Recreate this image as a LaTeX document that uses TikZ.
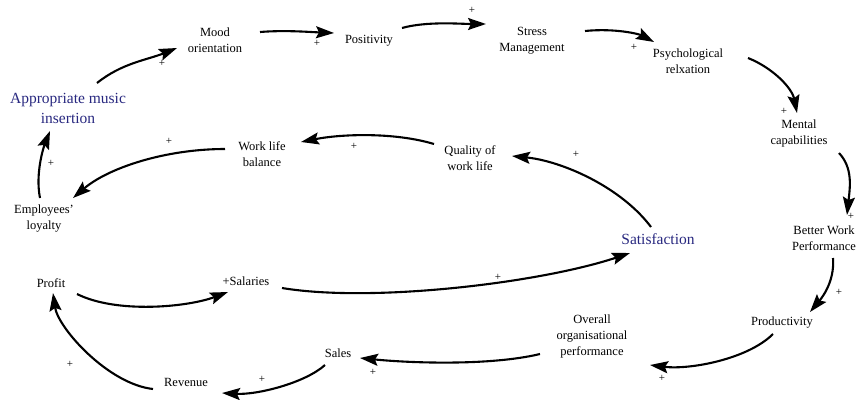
\documentclass[tikz,border=0pt]{standalone}
\usepackage{fontspec}
\setmainfont{Liberation Serif}
\usetikzlibrary{arrows.meta}
\definecolor{navy}{RGB}{40,40,128}
\begin{document}
\begin{tikzpicture}[x=1pt,y=-1pt,
 lbl/.style={font=\fontsize{12.5}{16}\selectfont, align=center, inner sep=0pt},
 big/.style={font=\fontsize{15.5}{20}\selectfont, align=center, inner sep=0pt, text=navy},
 pl/.style={font=\fontsize{11}{11}\selectfont, inner sep=0pt},
 arr/.style={line width=2.1pt, -{Stealth[length=18pt,width=12pt,inset=3pt]}}]
\useasboundingbox[fill=white] (0,0) rectangle (858,399);

% nodes
\node[lbl] (mood) at (215,40) {Mood\\orientation};
\node[lbl] (pos) at (369,41) {Positivity};
\node[lbl] (stress) at (532,41) {Stress\\Management};
\node[lbl] (psych) at (688,61) {Psychological\\relxation};
\node[lbl] (mental) at (799,133) {Mental\\capabilities};
\node[lbl] (better) at (824,238) {Better Work\\Performance};
\node[lbl] (prod) at (782,323) {Productivity};
\node[lbl] (overall) at (592,336) {Overall\\organisational\\performance};
\node[lbl] (sales) at (338,353) {Sales};
\node[lbl] (rev) at (186,382) {Revenue};
\node[lbl] (profit) at (51,283) {Profit};
\node[lbl] (sal) at (246,281) {+Salaries};
\node[big] (sat) at (658,239) {Satisfaction};
\node[lbl] (qual) at (470,158) {Quality of\\work life};
\node[lbl] (wlb) at (262,154) {Work life\\balance};
\node[lbl] (loy) at (44,219) {Employees'\\loyalty};
\node[big] (app) at (68,108) {Appropriate music\\insertion};

% connectors
\draw[arr] ([shift={(29,-25)}]app.center) .. controls +(25,-20) and +(-30,12) .. ([shift={(-38,8)}]mood.center);
\draw[arr] ([shift={(45,-8)}]mood.center) .. controls +(25,-2) and +(-25,-1) .. ([shift={(-35,-8)}]pos.center);
\draw[arr] ([shift={(33,-13)}]pos.center) .. controls +(25,-7) and +(-25,0) .. ([shift={(-46,-17)}]stress.center);
\draw[arr] ([shift={(53,-10)}]stress.center) .. controls +(30,-3) and +(-15,-8) .. ([shift={(-34,-19)}]psych.center);
\draw[arr] ([shift={(60,-3)}]psych.center) .. controls +(25,10) and +(-5,-25) .. ([shift={(-2,-20)}]mental.center);
\draw[arr] ([shift={(40,20)}]mental.center) .. controls +(14,15) and +(3,-28) .. ([shift={(23,-23)}]better.center);
\draw[arr] ([shift={(9,20)}]better.center) .. controls +(2,25) and +(10,-12) .. ([shift={(28,-11)}]prod.center);
\draw[arr] ([shift={(-9,11)}]prod.center) .. controls +(-25,25) and +(40,5) .. ([shift={(58,29)}]overall.center);
\draw[arr] ([shift={(-52,18)}]overall.center) .. controls +(-50,12) and +(50,5) .. ([shift={(22,5)}]sales.center);
\draw[arr] ([shift={(-13,12)}]sales.center) .. controls +(-20,18) and +(35,2) .. ([shift={(36,11)}]rev.center);
\draw[arr] ([shift={(-33,7)}]rev.center) .. controls +(-45,-5) and +(5,35) .. ([shift={(2,10)}]profit.center);
\draw[arr] ([shift={(26,11)}]profit.center) .. controls +(40,20) and +(-40,15) .. ([shift={(-18,11)}]sal.center);
\draw[arr] ([shift={(36,7)}]sal.center) .. controls +(90,15) and +(-90,30) .. ([shift={(-28,14)}]sat.center);
\draw[arr] ([shift={(-7,-12)}]sat.center) .. controls +(-30,-40) and +(50,5) .. ([shift={(42,-2)}]qual.center);
\draw[arr] ([shift={(-36,-14)}]qual.center) .. controls +(-40,-12) and +(40,-8) .. ([shift={(39,-12)}]wlb.center);
\draw[arr] ([shift={(-37,-5)}]wlb.center) .. controls +(-60,0) and +(35,-30) .. ([shift={(29,-21)}]loy.center);
\draw[arr] ([shift={(-4,-21)}]loy.center) .. controls +(-5,-25) and +(-6,15) .. ([shift={(-18,23)}]app.center);

% polarity signs
\node[pl] (p1) at (162,63) {+};
\node[pl] (p2) at (317,43) {+};
\node[pl] (p3) at (472,10) {+};
\node[pl] (p4) at (634,47) {+};
\node[pl] (p5) at (784,111) {+};
\node[pl] (p6) at (851,216) {+};
\node[pl] (p7) at (839,292) {+};
\node[pl] (p8) at (662,378) {+};
\node[pl] (p9) at (373,372) {+};
\node[pl] (p10) at (262,379) {+};
\node[pl] (p11) at (70,364) {+};
\node[pl] (p12) at (498,277) {+};
\node[pl] (p13) at (576,154) {+};
\node[pl] (p14) at (354,146) {+};
\node[pl] (p15) at (169,141) {+};
\node[pl] (p16) at (51,163) {+};
\end{tikzpicture}
\end{document}
